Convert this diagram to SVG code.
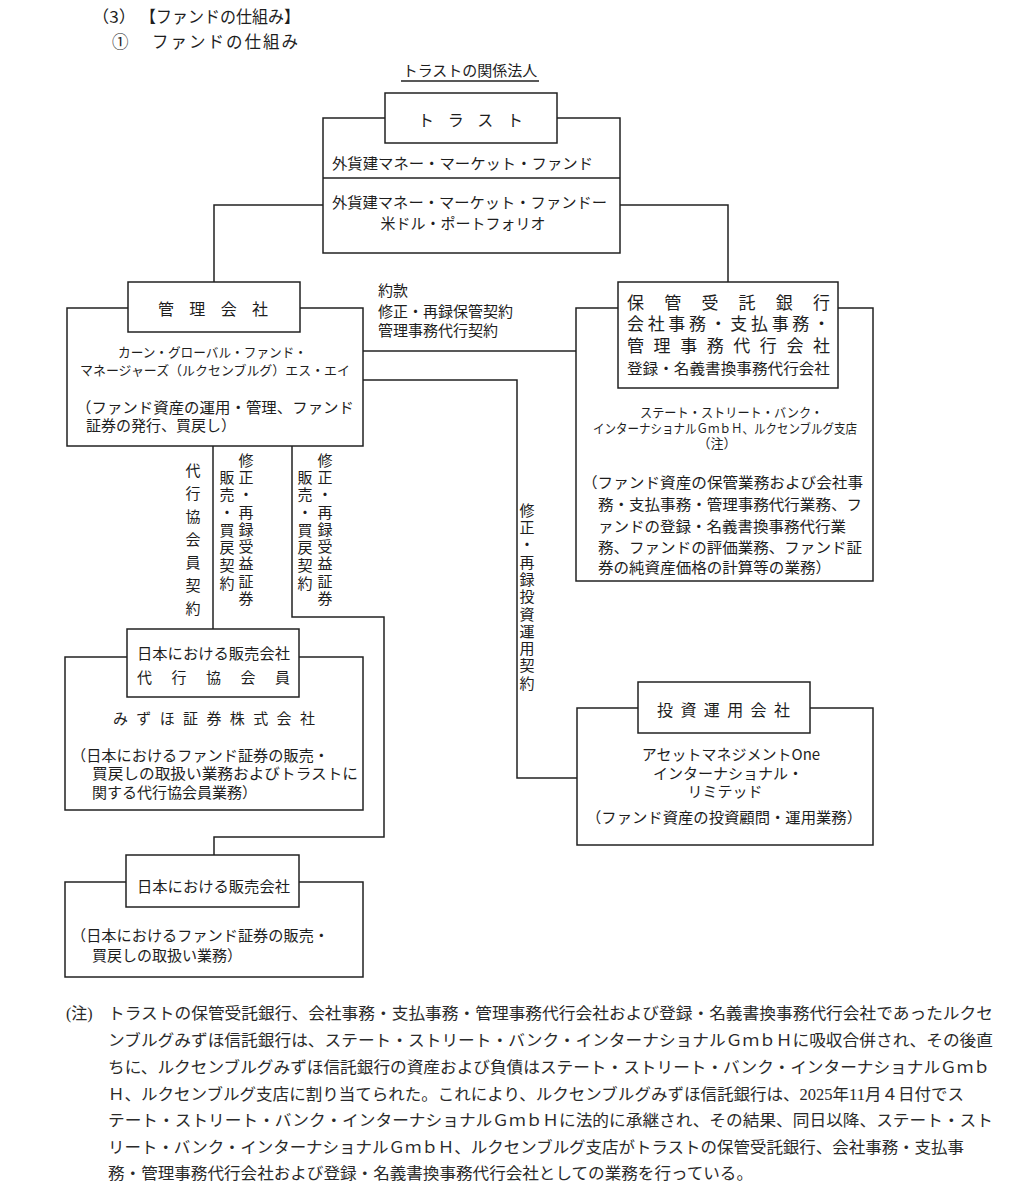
<svg xmlns="http://www.w3.org/2000/svg" width="1026" height="1200" viewBox="0 0 1026 1200">
<style>
text{font-family:"Noto Sans CJK JP","Noto Sans",sans-serif;fill:#1e1e1e;font-size:15px}
.h{font-size:16.5px}
.t{font-size:16px}
.t17{font-size:17px}
.s{font-size:13px}
.m{text-anchor:middle}
.note{font-family:"Liberation Serif","Noto Sans CJK JP",serif;font-size:16px;fill:#2a2a2a}
.box{fill:#fff;stroke:#222;stroke-width:1.5}
.ln{fill:none;stroke:#222;stroke-width:1.5}
</style>
<rect width="1026" height="1200" fill="#fff"/>

<g id="header">
<text class="h" x="92" y="23" textLength="44" lengthAdjust="spacingAndGlyphs">（3）</text>
<text class="h" x="140" y="23" textLength="160" lengthAdjust="spacingAndGlyphs">【ファンドの仕組み】</text>
<text class="h" x="112" y="48">①</text>
<text class="h" x="152" y="48" textLength="146" lengthAdjust="spacing">ファンドの仕組み</text>
<text class="m" x="470" y="76">トラストの関係法人</text>
<line class="ln" x1="401" y1="81" x2="539" y2="81" stroke-width="1.2"/>
</g>

<g id="connectors">
<path class="ln" d="M323,205 H214 V282"/>
<path class="ln" d="M620,205 H728 V282"/>
<path class="ln" d="M363,351 H576"/>
<path class="ln" d="M363,380 H517 V778 H577"/>
<path class="ln" d="M213,446 V629"/>
<path class="ln" d="M292,446 V617 H384 V837 H214 V855"/>
<text x="378" y="296">約款</text>
<text x="378" y="317">修正・再録保管契約</text>
<text x="378" y="336">管理事務代行契約</text>
<text class="m" x="193 193 193 193 193 193 193" y="476 499 522 545 568 591 614">代行協会員契約</text>
<text class="m" x="246 246 246 246 246 246 246 246 246" y="466 483 500 518 535 552 569 587 604">修正・再録受益証券</text>
<text class="m" x="227 227 227 227 227 227 227" y="483 500 518 536 553 571 589">販売・買戻契約</text>
<text class="m" x="325 325 325 325 325 325 325 325 325" y="466 483 500 518 535 552 569 587 604">修正・再録受益証券</text>
<text class="m" x="305 305 305 305 305 305 305" y="483 500 518 536 553 571 589">販売・買戻契約</text>
<text class="m" x="527 527 527 527 527 527 527 527 527 527 527" y="516 533 550 568 585 602 620 637 654 671 689">修正・再録投資運用契約</text>
</g>

<g id="trust">
<rect class="box" x="323" y="118" width="297" height="135"/>
<line class="ln" x1="323" y1="178" x2="620" y2="178"/>
<rect class="box" x="385" y="93" width="172" height="50"/>
<text class="t" x="418" y="126" textLength="105" lengthAdjust="spacing">トラスト</text>
<text x="332" y="169" textLength="261" lengthAdjust="spacingAndGlyphs">外貨建マネー・マーケット・ファンド</text>
<text x="332" y="208" textLength="275" lengthAdjust="spacingAndGlyphs">外貨建マネー・マーケット・ファンドー</text>
<text class="m" x="463" y="229">米ドル・ポートフォリオ</text>
</g>

<g id="management">
<rect class="box" x="67" y="308" width="296" height="138"/>
<rect class="box" x="128" y="282" width="172" height="50"/>
<text class="t" x="158" y="315" textLength="110" lengthAdjust="spacing">管理会社</text>
<text class="s" x="118" y="357" textLength="189" lengthAdjust="spacingAndGlyphs">カーン・グローバル・ファンド・</text>
<text class="s" x="80" y="375" textLength="270" lengthAdjust="spacingAndGlyphs">マネージャーズ（ルクセンブルグ）エス・エイ</text>
<text x="76" y="413" textLength="278" lengthAdjust="spacingAndGlyphs">（ファンド資産の運用・管理、ファンド</text>
<text x="86" y="431">証券の発行、買戻し）</text>
</g>

<g id="custodian">
<rect class="box" x="576" y="308" width="297" height="273"/>
<rect class="box" x="618" y="282" width="220" height="106"/>
<text class="t17" x="627" y="309" textLength="203" lengthAdjust="spacing">保管受託銀行</text>
<text class="t17" x="627" y="330" textLength="203" lengthAdjust="spacing">会社事務・支払事務・</text>
<text class="t17" x="627" y="352" textLength="203" lengthAdjust="spacing">管理事務代行会社</text>
<text x="627" y="374" textLength="203" lengthAdjust="spacingAndGlyphs">登録・名義書換事務代行会社</text>
<text class="s" x="640" y="417" textLength="183" lengthAdjust="spacingAndGlyphs">ステート・ストリート・バンク・</text>
<text class="s" x="593" y="433" textLength="264" lengthAdjust="spacingAndGlyphs">インターナショナルＧｍｂＨ、ルクセンブルグ支店</text>
<text class="s m" x="717" y="448">（注）</text>
<text x="582" y="488" textLength="281" lengthAdjust="spacingAndGlyphs">（ファンド資産の保管業務および会社事</text>
<text x="598" y="510" textLength="264" lengthAdjust="spacingAndGlyphs">務・支払事務・管理事務代行業務、フ</text>
<text x="598" y="532" textLength="248" lengthAdjust="spacingAndGlyphs">ァンドの登録・名義書換事務代行業</text>
<text x="598" y="553" textLength="264" lengthAdjust="spacingAndGlyphs">務、ファンドの評価業務、ファンド証</text>
<text x="598" y="573" textLength="233" lengthAdjust="spacingAndGlyphs">券の純資産価格の計算等の業務）</text>
</g>

<g id="mizuho">
<rect class="box" x="65" y="657" width="298" height="153"/>
<rect class="box" x="127" y="629" width="172" height="68"/>
<text x="137" y="659" textLength="153" lengthAdjust="spacingAndGlyphs">日本における販売会社</text>
<text x="137" y="683" textLength="153" lengthAdjust="spacing">代行協会員</text>
<text x="113" y="724" textLength="202" lengthAdjust="spacing">みずほ証券株式会社</text>
<text x="71" y="761" textLength="258" lengthAdjust="spacingAndGlyphs">（日本におけるファンド証券の販売・</text>
<text x="92" y="779" textLength="266" lengthAdjust="spacingAndGlyphs">買戻しの取扱い業務およびトラストに</text>
<text x="92" y="798">関する代行協会員業務）</text>
</g>

<g id="investment">
<rect class="box" x="577" y="708" width="296" height="137"/>
<rect class="box" x="638" y="682" width="172" height="51"/>
<text class="t" x="657" y="716" textLength="133" lengthAdjust="spacing">投資運用会社</text>
<text class="m" x="731" y="760">アセットマネジメントOne</text>
<text class="m" x="728" y="779">インターナショナル・</text>
<text class="m" x="725" y="797">リミテッド</text>
<text x="586" y="823" textLength="276" lengthAdjust="spacingAndGlyphs">（ファンド資産の投資顧問・運用業務）</text>
</g>

<g id="sales">
<rect class="box" x="65" y="882" width="298" height="95"/>
<rect class="box" x="126" y="855" width="173" height="52"/>
<text x="137" y="892" textLength="153" lengthAdjust="spacingAndGlyphs">日本における販売会社</text>
<text x="71" y="941" textLength="258" lengthAdjust="spacingAndGlyphs">（日本におけるファンド証券の販売・</text>
<text x="92" y="961">買戻しの取扱い業務）</text>
</g>

<g id="note">
<text class="note" x="66" y="1019">(注)</text>
<text class="note" x="108" y="1019" textLength="885" lengthAdjust="spacingAndGlyphs">トラストの保管受託銀行、会社事務・支払事務・管理事務代行会社および登録・名義書換事務代行会社であったルクセ</text>
<text class="note" x="108" y="1046" textLength="885" lengthAdjust="spacingAndGlyphs">ンブルグみずほ信託銀行は、ステート・ストリート・バンク・インターナショナルＧｍｂＨに吸収合併され、その後直</text>
<text class="note" x="108" y="1073" textLength="882" lengthAdjust="spacingAndGlyphs">ちに、ルクセンブルグみずほ信託銀行の資産および負債はステート・ストリート・バンク・インターナショナルＧｍｂ</text>
<text class="note" x="108" y="1100" textLength="856" lengthAdjust="spacingAndGlyphs">Ｈ、ルクセンブルグ支店に割り当てられた。これにより、ルクセンブルグみずほ信託銀行は、2025年11月４日付でス</text>
<text class="note" x="108" y="1126" textLength="885" lengthAdjust="spacingAndGlyphs">テート・ストリート・バンク・インターナショナルＧｍｂＨに法的に承継され、その結果、同日以降、ステート・スト</text>
<text class="note" x="108" y="1153" textLength="856" lengthAdjust="spacingAndGlyphs">リート・バンク・インターナショナルＧｍｂＨ、ルクセンブルグ支店がトラストの保管受託銀行、会社事務・支払事</text>
<text class="note" x="108" y="1179" textLength="645" lengthAdjust="spacingAndGlyphs">務・管理事務代行会社および登録・名義書換事務代行会社としての業務を行っている。</text>
</g>
</svg>
